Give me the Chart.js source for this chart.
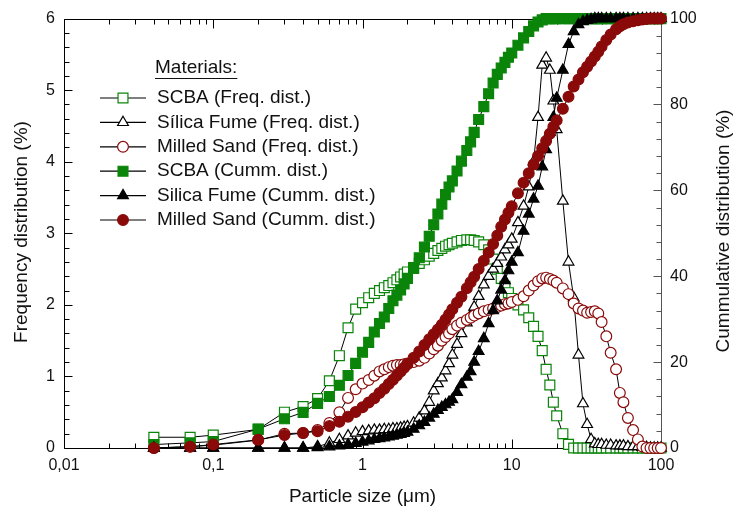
<!DOCTYPE html>
<html>
<head>
<meta charset="utf-8">
<title>Particle size distribution</title>
<script src="https://cdn.jsdelivr.net/npm/chart.js@4.4.1/dist/chart.umd.min.js"></script>
<style>
  html, body { margin: 0; padding: 0; background: #fff; }
  #wrap { position: relative; width: 736px; height: 512px; }
</style>
</head>
<body>
<div id="wrap"><canvas id="myChart"></canvas></div>
<script>
// particle size classes (um)
var sizes = [
  0.04, 0.07, 0.1, 0.2, 0.3, 0.4, 0.5, 0.6, 0.7, 0.8,
  0.9, 1.0, 1.1, 1.2, 1.3, 1.4, 1.5, 1.6, 1.7, 1.8,
  1.9, 2.0, 2.2, 2.4, 2.6, 2.8, 3.0, 3.2, 3.4, 3.6,
  3.8, 4.0, 4.3, 4.6, 5.0, 5.3, 5.6, 6.0, 6.5, 7.0,
  7.5, 8.0, 8.5, 9.0, 9.5, 10, 11, 12, 13, 14,
  15, 16, 17, 18, 19, 20, 22, 24, 26, 28,
  30, 32, 34, 36, 38, 40, 43, 46, 50, 53,
  56, 60, 65, 70, 75, 80, 85, 90, 95, 100
];

// frequency distribution (%), left axis
var scbaFreq = [
  0.15, 0.15, 0.18, 0.26, 0.50, 0.58, 0.69, 0.94, 1.29, 1.68,
  1.94, 2.03, 2.10, 2.16, 2.20, 2.24, 2.27, 2.31, 2.35, 2.39,
  2.43, 2.46, 2.52, 2.58, 2.63, 2.68, 2.72, 2.76, 2.79, 2.82,
  2.84, 2.86, 2.88, 2.90, 2.91, 2.91, 2.90, 2.88, 2.84, 2.77,
  2.64, 2.50, 2.37, 2.26, 2.17, 2.09, 2.00, 1.93, 1.82, 1.70,
  1.56, 1.36, 1.10, 0.88, 0.64, 0.45, 0.20, 0.05, 0, 0,
  0, 0, 0, 0, 0, 0, 0, 0, 0, 0,
  0, 0, 0, 0, 0, 0, 0, 0, 0, 0
];
var sfFreq = [
  0, 0, 0, 0, 0, 0, 0.02, 0.07, 0.12, 0.17,
  0.21, 0.23, 0.24, 0.25, 0.25, 0.26, 0.26, 0.27, 0.27, 0.28,
  0.29, 0.30, 0.35, 0.42, 0.52, 0.64, 0.80, 0.90, 0.98, 1.08,
  1.18, 1.30, 1.45, 1.60, 1.75, 1.85, 1.97, 2.12, 2.28, 2.40,
  2.50, 2.58, 2.67, 2.77, 2.84, 2.92, 3.15, 3.38, 3.65, 4.00,
  4.62, 5.35, 5.45, 5.28, 4.85, 4.45, 3.45, 2.60, 2.10, 1.30,
  0.62, 0.33, 0.12, 0.06, 0.05, 0.05, 0.04, 0.04, 0.03, 0.03,
  0.03, 0.02, 0.02, 0.02, 0.01, 0.01, 0, 0, 0, 0
];
var msFreq = [
  0, 0.02, 0.04, 0.11, 0.20, 0.21, 0.25, 0.35, 0.50, 0.70,
  0.82, 0.90, 0.95, 1.01, 1.07, 1.10, 1.13, 1.15, 1.16, 1.16,
  1.17, 1.18, 1.20, 1.22, 1.26, 1.32, 1.38, 1.43, 1.50, 1.55,
  1.60, 1.66, 1.71, 1.75, 1.79, 1.82, 1.85, 1.88, 1.91, 1.93,
  1.95, 1.97, 1.99, 2.01, 2.02, 2.04, 2.07, 2.12, 2.20, 2.27,
  2.33, 2.37, 2.38, 2.36, 2.34, 2.31, 2.23, 2.15, 2.02, 1.95,
  1.92, 1.89, 1.90, 1.91, 1.88, 1.76, 1.56, 1.33, 1.10, 0.77,
  0.64, 0.42, 0.25, 0.12, 0.02, 0, 0, 0, 0, 0
];

// cummulative distribution (%), right axis
var scbaCum = [
  0.8, 1.2, 1.5, 4.4, 6.8, 8.3, 10.4, 12.0, 14.6, 16.9,
  19.7, 22.3, 24.6, 27.0, 29.0, 30.5, 32.5, 34.3, 35.6, 36.8,
  38.2, 39.5, 41.8, 44.3, 46.8, 49.3, 52.0, 54.5, 56.8, 59.0,
  60.8, 62.2, 64.5, 66.8, 69.3, 71.3, 73.5, 76.5, 79.5, 82.5,
  85.0, 87.0, 88.5, 89.8, 91.0, 92.0, 93.8, 95.5, 97.0, 98.3,
  99.2, 99.7, 100, 100, 100, 100, 100, 100, 100, 100,
  100, 100, 100, 100, 100, 100, 100, 100, 100, 100,
  100, 100, 100, 100, 100, 100, 100, 100, 100, 100
];
var sfCum = [
  0, 0, 0, 0, 0, 0, 0.1, 0.3, 0.5, 0.8,
  1.1, 1.4, 1.7, 2.0, 2.2, 2.4, 2.6, 2.8, 3.0, 3.2,
  3.4, 3.7, 4.4, 5.2, 6.0, 7.0, 7.9, 8.8, 9.5, 10.1,
  10.7, 11.3, 13.0, 14.8, 16.5, 17.8, 20.0, 22.5, 25.5, 29.0,
  32.0, 34.3, 36.8, 39.0, 41.3, 43.3, 45.5, 50.5, 54.5, 58.0,
  61.0, 65.5, 69.5, 73.5, 77.0, 81.5, 88.0, 94.0, 97.0, 98.6,
  99.3, 99.6, 99.8, 100, 100, 100, 100, 100, 100, 100,
  100, 100, 100, 100, 100, 100, 100, 100, 100, 100
];
var msCum = [
  0, 0.3, 0.8, 1.9, 3.0, 3.5, 3.9, 5.1, 6.1, 7.3,
  8.4, 9.5, 10.6, 11.6, 12.8, 13.8, 14.9, 15.9, 16.9, 17.8,
  18.7, 19.5, 21.0, 22.5, 24.0, 25.3, 26.5, 27.6, 28.7, 29.9,
  31.1, 32.3, 33.8, 35.2, 37.2, 38.6, 39.9, 41.7, 43.6, 45.5,
  47.5, 49.5, 51.5, 53.2, 54.8, 56.3, 59.3, 61.8, 64.0, 66.0,
  68.0, 69.8, 71.5, 73.2, 74.8, 76.3, 79.0, 81.8, 84.2, 85.8,
  87.5, 88.8, 90.0, 91.2, 92.3, 93.5, 95.0, 96.3, 97.5, 98.2,
  98.7, 99.1, 99.4, 99.6, 99.8, 99.9, 100, 100, 100, 100
];

var seriesLabels = [
  'SCBA (Freq. dist.)',
  'Sílica Fume (Freq. dist.)',
  'Milled Sand (Freq. dist.)',
  'SCBA (Cumm. dist.)',
  'Silica Fume (Cumm. dist.)',
  'Milled Sand (Cumm. dist.)'
];
var legendTitle = 'Materials:';
var xTickValues = [0.01, 0.1, 1, 10, 100];
var xTickLabels = ['0,01', '0,1', '1', '10', '100'];
var xTitle = 'Particle size (\u03bcm)';
var yTitle = 'Frequency distribution (%)';
var y2Title = 'Cummulative distribution (%)';

var GREEN = '#0a850a';
var MAROON = '#8a0a0a';
var FONT = '"Liberation Sans", Arial, sans-serif';

function makeSet(idx, values, axis, style, color, filled, radius) {
  return {
    label: seriesLabels[idx],
    data: sizes.map(function (s, i) { return { x: s, y: values[i] }; }),
    yAxisID: axis,
    borderColor: '#000',
    borderWidth: 1,
    pointStyle: style,
    pointRadius: radius,
    pointHoverRadius: radius,
    pointBorderColor: color,
    pointBackgroundColor: filled ? color : '#fff',
    pointBorderWidth: 1.2,
    fill: false,
    tension: 0,
    clip: false,
    order: 5 - idx // later series are drawn on top
  };
}

var datasets = [
  makeSet(0, scbaFreq, 'y', 'rect', GREEN, false, 7),
  makeSet(1, sfFreq, 'y', 'triangle', '#000', false, 6.2),
  makeSet(2, msFreq, 'y', 'circle', MAROON, false, 5.4),
  makeSet(3, scbaCum, 'y2', 'rect', GREEN, true, 7),
  makeSet(4, sfCum, 'y2', 'triangle', '#000', true, 6.2),
  makeSet(5, msCum, 'y2', 'circle', MAROON, true, 5.4)
];

// small marker drawer for the legend
function legendMarker(ctx, ds, x, y) {
  var r = ds.pointRadius;
  ctx.beginPath();
  if (ds.pointStyle === 'rect') {
    var h = r * Math.SQRT1_2;
    ctx.rect(x - h, y - h, 2 * h, 2 * h);
  } else if (ds.pointStyle === 'triangle') {
    ctx.moveTo(x, y - r);
    ctx.lineTo(x + r * 0.866, y + r * 0.5);
    ctx.lineTo(x - r * 0.866, y + r * 0.5);
    ctx.closePath();
  } else {
    ctx.arc(x, y, r, 0, Math.PI * 2);
  }
  ctx.fillStyle = ds.pointBackgroundColor;
  ctx.fill();
  ctx.lineWidth = ds.pointBorderWidth;
  ctx.strokeStyle = ds.pointBorderColor;
  ctx.stroke();
}

// frame and inward ticks, drawn from the chart's scales
var framePlugin = {
  id: 'frame',
  beforeDatasetsDraw: function (chart) {
    var ctx = chart.ctx, a = chart.chartArea;
    var xs = chart.scales.x, ys = chart.scales.y, y2 = chart.scales.y2;
    var L = Math.round(a.left) + 0.5, R = Math.round(a.right) + 0.5;
    var T = Math.round(a.top) + 0.5, B = Math.round(a.bottom) + 0.5;
    ctx.save();
    ctx.lineWidth = 1;
    ctx.strokeStyle = '#000';
    ctx.beginPath();
    ctx.moveTo(R, T); ctx.lineTo(L, T); ctx.lineTo(L, B); ctx.lineTo(R, B);
    // x ticks, bottom and top
    for (var d = -2; d <= 1; d++) {
      for (var k = 1; k <= 9; k++) {
        var px = Math.round(xs.getPixelForValue(k * Math.pow(10, d))) + 0.5;
        var len = k === 1 ? 9 : 5;
        ctx.moveTo(px, B); ctx.lineTo(px, B - len);
        ctx.moveTo(px, T); ctx.lineTo(px, T + len);
      }
    }
    // left ticks every 0.2
    for (var i = 0; i <= 30; i++) {
      var py = Math.round(ys.getPixelForValue(i / 5)) + 0.5;
      var l2 = i % 5 === 0 ? 8 : 5;
      ctx.moveTo(L, py); ctx.lineTo(L + l2, py);
    }
    ctx.stroke();
    // right axis, a bit lighter
    ctx.strokeStyle = '#555';
    ctx.beginPath();
    ctx.moveTo(R, T); ctx.lineTo(R, B);
    for (var j = 0; j <= 25; j++) {
      var qy = Math.round(y2.getPixelForValue(j * 4)) + 0.5;
      var l3 = j % 5 === 0 ? 8 : 5;
      ctx.moveTo(R, qy); ctx.lineTo(R - l3, qy);
    }
    ctx.stroke();
    ctx.restore();
  },
  afterDraw: function (chart) {
    var ctx = chart.ctx, a = chart.chartArea;
    ctx.save();
    ctx.fillStyle = '#111';
    ctx.textBaseline = 'middle';
    ctx.font = '19px ' + FONT;

    // axis titles
    ctx.textAlign = 'center';
    ctx.fillText(xTitle, (a.left + a.right) / 2, 497);
    ctx.save();
    ctx.translate(22, 232);
    ctx.rotate(-Math.PI / 2);
    ctx.fillText(yTitle, 0, 0);
    ctx.restore();
    ctx.save();
    ctx.translate(724, 231);
    ctx.rotate(-Math.PI / 2);
    ctx.fillText(y2Title, 0, 0);
    ctx.restore();

    // legend inside the plot
    ctx.textAlign = 'left';
    ctx.fillText(legendTitle, 155, 68);
    var w = ctx.measureText(legendTitle).width;
    ctx.lineWidth = 1;
    ctx.strokeStyle = '#111';
    ctx.beginPath();
    ctx.moveTo(155, 78.5); ctx.lineTo(155 + w, 78.5);
    ctx.stroke();
    chart.data.datasets.forEach(function (ds, n) {
      var ry = 98 + n * 24.4;
      ctx.strokeStyle = '#000';
      ctx.lineWidth = 1.2;
      ctx.beginPath();
      ctx.moveTo(100, ry); ctx.lineTo(146, ry);
      ctx.stroke();
      legendMarker(ctx, ds, 123, ry);
      ctx.fillStyle = '#111';
      ctx.fillText(ds.label, 157, ry);
    });
    ctx.restore();
  }
};

Chart.defaults.font.family = FONT;
Chart.defaults.font.size = 16;
Chart.defaults.color = '#111';

var ctx = document.getElementById('myChart').getContext('2d');
var chart = new Chart(ctx, {
  type: 'line',
  data: { datasets: datasets },
  options: {
    responsive: true,
    maintainAspectRatio: false,
    devicePixelRatio: 1,
    animation: false,
    layout: { padding: { top: 17, left: 0, right: 0, bottom: 0 } },
    plugins: { legend: { display: false }, tooltip: { enabled: false } },
    scales: {
      x: {
        type: 'logarithmic',
        position: 'bottom',
        min: 0.01,
        max: 100,
        grid: { display: false, drawTicks: false },
        border: { display: false },
        afterBuildTicks: function (scale) {
          scale.ticks = xTickValues.map(function (v) { return { value: v }; });
        },
        afterFit: function (scale) { scale.height = 64; },
        ticks: {
          autoSkip: false,
          maxRotation: 0,
          padding: 8,
          callback: function (value) {
            var k = xTickValues.indexOf(value);
            return k >= 0 ? xTickLabels[k] : '';
          }
        }
      },
      y: {
        position: 'left',
        min: 0,
        max: 6,
        grid: { display: false, drawTicks: false },
        border: { display: false },
        afterFit: function (scale) { scale.width = 64; },
        ticks: { stepSize: 1, padding: 9 }
      },
      y2: {
        position: 'right',
        min: 0,
        max: 100,
        grid: { display: false, drawTicks: false },
        border: { display: false },
        afterFit: function (scale) { scale.width = 75; },
        ticks: { stepSize: 20, padding: 9 }
      }
    }
  },
  plugins: [framePlugin]
});
</script>
</body>
</html>
